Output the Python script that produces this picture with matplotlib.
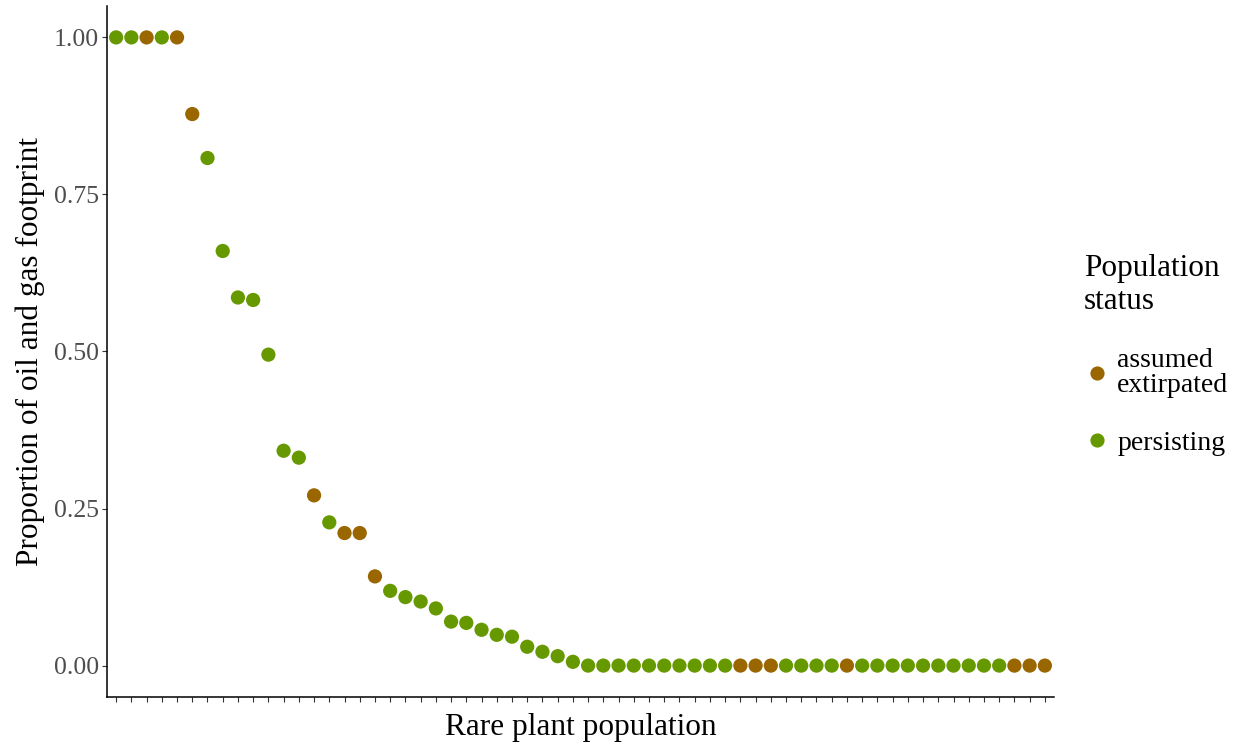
import matplotlib
matplotlib.use("Agg")
import matplotlib.pyplot as plt
from matplotlib.lines import Line2D
import numpy as np

plt.rcParams['font.family'] = ['Liberation Serif', 'DejaVu Serif']

# --- data ---
footprint = [
    1.00, 1.00, 1.00, 1.00, 1.00, 0.878, 0.808, 0.660, 0.586, 0.582,
    0.495, 0.342, 0.331, 0.271, 0.228, 0.211, 0.211, 0.142, 0.119, 0.109,
    0.102, 0.091, 0.070, 0.068, 0.057, 0.049, 0.046, 0.030, 0.022, 0.015,
    0.006, 0, 0, 0, 0, 0, 0, 0, 0, 0,
    0, 0, 0, 0, 0, 0, 0, 0, 0, 0,
    0, 0, 0, 0, 0, 0, 0, 0, 0, 0,
    0, 0,
]
G, B = "persisting", "assumed extirpated"
status = [
    G, G, B, G, B, B, G, G, G, G,
    G, G, G, B, G, B, B, B, G, G,
    G, G, G, G, G, G, G, G, G, G,
    G, G, G, G, G, G, G, G, G, G,
    G, B, B, B, G, G, G, G, B, G,
    G, G, G, G, G, G, G, G, G, B,
    B, B,
]
status_levels = ["assumed extirpated", "persisting"]
legend_labels = ["assumed\nextirpated", "persisting"]
status_colors = {"assumed extirpated": "#996600", "persisting": "#669900"}

x = np.arange(1, len(footprint) + 1)
y = np.array(footprint)
cols = [status_colors[s] for s in status]

fig = plt.figure(figsize=(12.43, 7.46), dpi=100)
ax = fig.add_axes([107/1243, 1 - 697/746, (1054 - 107)/1243, (697 - 6)/746])

ax.scatter(x, y, c=cols, s=105, linewidths=0, zorder=3, clip_on=False)

# ggplot-ish expansion
ax.set_xlim(0.4, len(x) + 0.6)
ax.set_ylim(-0.05, 1.05)

ax.set_xticks(x)
ax.set_xticklabels([])
ax.set_yticks([0, 0.25, 0.5, 0.75, 1.0])
ax.set_yticklabels(["0.00", "0.25", "0.50", "0.75", "1.00"])
ax.tick_params(axis='both', length=3.6, width=0.8, color="#333333",
               labelsize=18.5, labelcolor="#4D4D4D", pad=2.2)

for side in ("top", "right"):
    ax.spines[side].set_visible(False)
for side in ("left", "bottom"):
    ax.spines[side].set_linewidth(1.1)
    ax.spines[side].set_color("black")

ax.set_xlabel("Rare plant population", fontsize=22.5, labelpad=6)
ax.set_ylabel("Proportion of oil and gas footprint", fontsize=22.5, labelpad=6)

handles = [Line2D([], [], marker='o', linestyle='', markersize=10.2,
                  markerfacecolor=status_colors[s], markeredgewidth=0)
           for s in status_levels]
leg = ax.legend(handles, legend_labels, title="Population\nstatus",
                loc='upper left', bbox_to_anchor=(1084/1243, 1 - 254/746),
                bbox_transform=fig.transFigure, frameon=False, borderpad=0,
                borderaxespad=0, fontsize=20, title_fontsize=22.5,
                alignment='left', labelspacing=1.15, handletextpad=0.25,
                handlelength=0.95)
for t in leg.get_texts():
    t.set_linespacing(1.0)

fig.savefig("out.png", dpi=100)
